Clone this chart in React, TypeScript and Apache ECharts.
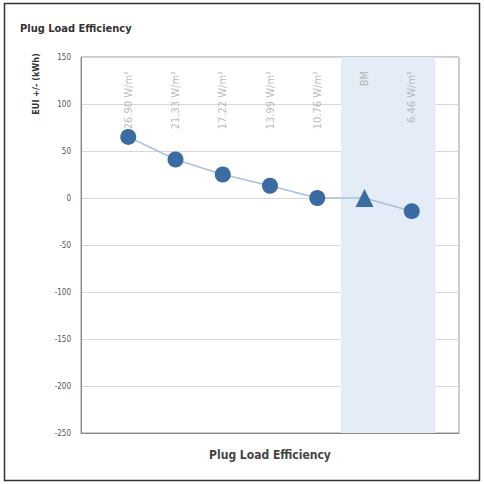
import React, { useEffect, useRef } from "react";
import * as echarts from "echarts";

const positions = [1, 2, 3, 4, 5, 6, 7];
const values = [65, 41, 25, 13, 0, 0, -14];
const labels = ["26.90 W/m²", "21.33 W/m²", "17.22 W/m²", "13.99 W/m²", "10.76 W/m²", "BM", "6.46 W/m²"];
const symbols = ["circle", "circle", "circle", "circle", "circle", "triangle", "circle"];
const bandRange = [5.5, 7.5];
const yTicks = { min: -250, max: 150, interval: 50 };

const FONT = "'Liberation Sans Narrow', 'DejaVu Sans Condensed', 'Liberation Sans', sans-serif";

export default function App() {
  const ref = useRef<HTMLDivElement>(null);
  useEffect(() => {
    if (!ref.current) return;
    const chart = echarts.init(ref.current, null, { renderer: "svg" });
    chart.setOption({
      animation: false,
      backgroundColor: "#ffffff",
      grid: { left: 81, top: 57, right: 25, bottom: 51, show: true, borderColor: "#999", borderWidth: 1 },
      graphic: [
        { type: "rect", shape: { x: 4.5, y: 3.5, width: 475, height: 477 }, style: { fill: "none", stroke: "#333", lineWidth: 1.5 }, silent: true },
        { type: "text", x: 20, y: 28, style: { text: "Plug Load Efficiency", fontFamily: FONT, fontWeight: "bold", fontSize: 11, fill: "#333", textVerticalAlign: "middle" } },
        { type: "text", x: 36, y: 84, rotation: Math.PI / 2, style: { text: "EUI +/- (kWh)", fontFamily: FONT, fontWeight: "bold", fontSize: 9, fill: "#333", textAlign: "center", textVerticalAlign: "middle" } },
      ],
      xAxis: {
        type: "value",
        min: 0,
        max: 8,
        axisLabel: { show: false },
        axisTick: { show: false },
        splitLine: { show: false },
        axisLine: { show: true, onZero: false, lineStyle: { color: "#888" } },
        name: "Plug Load Efficiency",
        nameLocation: "middle",
        nameGap: 16,
        nameTextStyle: { fontFamily: FONT, fontWeight: "bold", fontSize: 12, color: "#444" },
      },
      yAxis: {
        type: "value",
        min: yTicks.min,
        max: yTicks.max,
        interval: yTicks.interval,
        axisLine: { show: true, lineStyle: { color: "#888" } },
        axisTick: { show: false },
        axisLabel: { fontFamily: FONT, fontSize: 8, color: "#555", margin: 10 },
        splitLine: { lineStyle: { color: "#d8d8d8" } },
      },
      series: [
        {
          type: "line",
          data: positions.map((p, i) => ({ value: [p, values[i]], symbol: symbols[i], symbolSize: symbols[i] === "triangle" ? 18 : 16 })),
          lineStyle: { color: "#a9c0d8", width: 1.5 },
          itemStyle: { color: "#3a6ca3" },
          z: 3,
          markArea: {
            silent: true,
            itemStyle: { color: "#e4edf7" },
            data: [[{ xAxis: bandRange[0] }, { xAxis: bandRange[1] }]],
          },
        },
        {
          type: "scatter",
          symbolSize: 0,
          data: positions.map((p, i) => ({ value: [p, yTicks.max], name: labels[i] })),
          label: {
            show: true,
            position: "bottom",
            distance: 14,
            rotate: 90,
            align: "right",
            verticalAlign: "middle",
            formatter: (p: any) => p.name,
            fontFamily: FONT,
            fontSize: 11,
            color: "#aaa",
          },
          z: 2,
        },
      ],
    });
    return () => chart.dispose();
  }, []);
  return <div ref={ref} style={{ position: "fixed", left: 0, top: 0, width: 484, height: 484 }} />;
}
